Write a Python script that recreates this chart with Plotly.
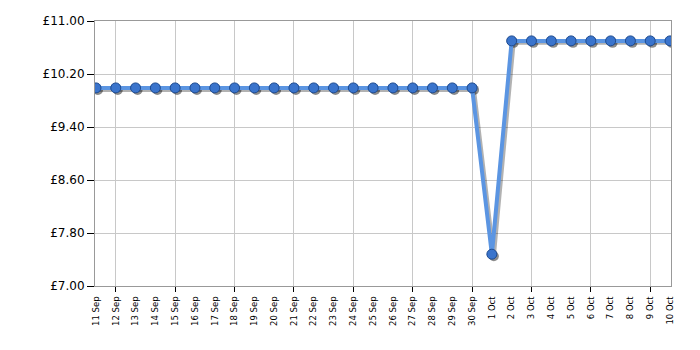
import plotly.graph_objects as go

dates = ["11 Sep", "12 Sep", "13 Sep", "14 Sep", "15 Sep", "16 Sep", "17 Sep", "18 Sep",
         "19 Sep", "20 Sep", "21 Sep", "22 Sep", "23 Sep", "24 Sep", "25 Sep", "26 Sep",
         "27 Sep", "28 Sep", "29 Sep", "30 Sep", "1 Oct", "2 Oct", "3 Oct", "4 Oct",
         "5 Oct", "6 Oct", "7 Oct", "8 Oct", "9 Oct", "10 Oct"]
prices = [9.99] * 20 + [7.48] + [10.70] * 9
ytick_vals = [7.00, 7.80, 8.60, 9.40, 10.20, 11.00]
ytick_text = ["£7.00", "£7.80", "£8.60", "£9.40", "£10.20", "£11.00"]
grid_idx = list(range(1, len(dates), 3))

x = list(range(len(dates)))

fig = go.Figure()
# drop shadow
fig.add_trace(go.Scatter(
    x=[v + 0.1 for v in x], y=[p - 0.03 for p in prices], mode="lines+markers",
    line=dict(color="rgba(0,0,0,0.30)", width=4),
    marker=dict(size=10, color="rgba(0,0,0,0.45)", line=dict(width=0)),
    hoverinfo="skip", showlegend=False))
fig.add_trace(go.Scatter(
    x=x, y=prices, mode="lines+markers",
    line=dict(color="#5b95e2", width=4),
    marker=dict(size=10, color="#3a74cc", line=dict(color="#1d4a8f", width=1)),
    showlegend=False))
# invisible trace for the gridline axis
fig.add_trace(go.Scatter(x=[x[0], x[-1]], y=[prices[0], prices[-1]], xaxis="x2",
                         mode="markers", marker=dict(opacity=0), hoverinfo="skip",
                         showlegend=False))

xr = [-0.05, len(dates) - 1 + 0.05]
fig.update_layout(
    width=700, height=350,
    margin=dict(l=95, r=29, t=21, b=64),
    paper_bgcolor="white", plot_bgcolor="white",
    font=dict(family="DejaVu Sans, Verdana, sans-serif", color="black"),
    xaxis=dict(range=xr, tickvals=x, ticktext=dates, tickangle=-90,
               tickfont=dict(size=8.5), showgrid=False, ticks="outside", ticklen=6,
               tickcolor="rgba(0,0,0,0)", zeroline=False,
               showline=True, linecolor="#999999", linewidth=1, mirror=True,
               fixedrange=True),
    xaxis2=dict(range=xr, overlaying="x", anchor="y", side="bottom", tickvals=grid_idx,
                showticklabels=False, showgrid=True, gridcolor="#c8c8c8", gridwidth=1,
                ticks="outside", ticklen=5, tickwidth=1.2, tickcolor="black", zeroline=False,
                showline=False),
    yaxis=dict(range=[7.0, 11.0], tickvals=ytick_vals, ticktext=ytick_text,
               tickfont=dict(size=12), showgrid=True, gridcolor="#c8c8c8", gridwidth=1,
               ticks="outside", ticklen=7, tickwidth=1.2, tickcolor="black", zeroline=False,
               showline=True, linecolor="#999999", linewidth=1, mirror=True),
)

fig.write_html("out.html")
